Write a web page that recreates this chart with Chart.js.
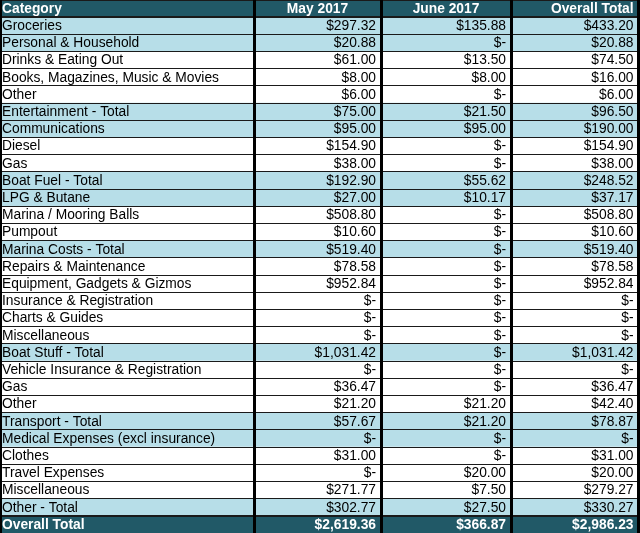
<!DOCTYPE html>
<html>
<head>
<meta charset="utf-8">
<script src="https://cdn.jsdelivr.net/npm/chart.js@4.4.0/dist/chart.umd.min.js"></script>
<style>
  html, body { margin: 0; padding: 0; background: #fff; }
  canvas { display: block; }
</style>
</head>
<body>
<canvas id="tableChart" width="640" height="533"></canvas>
<script>
// ====== Data ======
const headers = ["Category", "May 2017", "June 2017", "Overall Total"];

const categories = [
  "Groceries", "Personal & Household", "Drinks & Eating Out",
  "Books, Magazines, Music & Movies", "Other", "Entertainment - Total",
  "Communications", "Diesel", "Gas", "Boat Fuel - Total", "LPG & Butane",
  "Marina / Mooring Balls", "Pumpout", "Marina Costs - Total",
  "Repairs & Maintenance", "Equipment, Gadgets & Gizmos",
  "Insurance & Registration", "Charts & Guides", "Miscellaneous",
  "Boat Stuff - Total", "Vehicle Insurance & Registration", "Gas", "Other",
  "Transport - Total", "Medical Expenses (excl insurance)", "Clothes",
  "Travel Expenses", "Miscellaneous", "Other - Total", "Overall Total"
];

const may2017 = [
  297.32, 20.88, 61.00, 8.00, 6.00, 75.00, 95.00, 154.90, 38.00, 192.90,
  27.00, 508.80, 10.60, 519.40, 78.58, 952.84, 0, 0, 0, 1031.42,
  0, 36.47, 21.20, 57.67, 0, 31.00, 0, 271.77, 302.77, 2619.36
];

const june2017 = [
  135.88, 0, 13.50, 8.00, 0, 21.50, 95.00, 0, 0, 55.62,
  10.17, 0, 0, 0, 0, 0, 0, 0, 0, 0,
  0, 0, 21.20, 21.20, 0, 0, 20.00, 7.50, 27.50, 366.87
];

const overallTotal = [
  433.20, 20.88, 74.50, 16.00, 6.00, 96.50, 190.00, 154.90, 38.00, 248.52,
  37.17, 508.80, 10.60, 519.40, 78.58, 952.84, 0, 0, 0, 1031.42,
  0, 36.47, 42.40, 78.87, 0, 31.00, 20.00, 279.27, 330.27, 2986.23
];

// ====== Layout / style ======
const colEdges = [0, 254, 381, 511, 638.5];
const shadedRows = [0, 1, 5, 6, 9, 10, 13, 19, 23, 24, 28];
const DARK = "#215967";
const LIGHT = "#B7DEE8";
const FONT = "Liberation Sans, Arial, sans-serif";

const rowLabels = ["__header__"].concat(categories.map((c, i) => "r" + i));
const lastRow = categories.length; // index in rowLabels of "Overall Total"

function rowColor(r) {
  if (r === 0 || r === lastRow) return DARK;
  return shadedRows.includes(r - 1) ? LIGHT : "#FFFFFF";
}

function money(v) {
  if (!v) return "$-";
  return "$" + v.toLocaleString("en-US", { minimumFractionDigits: 2, maximumFractionDigits: 2 });
}

const columns = [categories, may2017, june2017, overallTotal];

// ====== Cell text plugin ======
const cellText = {
  id: "cellText",
  afterDraw(chart) {
    const { ctx, scales: { x, y } } = chart;
    ctx.save();
    ctx.textBaseline = "middle";
    rowLabels.forEach((lab, r) => {
      const cy = y.getPixelForValue(r) + 0.5;
      const dark = r === 0 || r === lastRow;
      ctx.fillStyle = dark ? "#FFFFFF" : "#000000";
      ctx.font = (dark ? "bold " : "") + "13.8px " + FONT;
      for (let c = 0; c < 4; c++) {
        const left = x.getPixelForValue(colEdges[c]);
        const right = x.getPixelForValue(colEdges[c + 1]);
        let txt;
        if (r === 0) txt = headers[c];
        else txt = c === 0 ? categories[r - 1] : money(columns[c][r - 1]);
        if (c === 0) {
          ctx.textAlign = "left";
          ctx.fillText(txt, left + 2, cy);
        } else if (r === 0 && c < 3) {
          ctx.textAlign = "center";
          ctx.fillText(txt, (left + right) / 2, cy);
        } else {
          ctx.textAlign = "right";
          ctx.fillText(txt, right - 5, cy);
        }
      }
    });
    ctx.restore();
  }
};

// ====== Table as floating bars ======
const datasets = headers.map((h, c) => ({
  label: h,
  data: rowLabels.map(() => [colEdges[c], colEdges[c + 1]]),
  backgroundColor: rowLabels.map((lab, r) => rowColor(r)),
  borderWidth: 0,
  borderSkipped: false,
  barPercentage: 1,
  categoryPercentage: 1,
  grouped: false
}));

new Chart(document.getElementById("tableChart").getContext("2d"), {
  type: "bar",
  data: { labels: rowLabels, datasets },
  options: {
    indexAxis: "y",
    responsive: false,
    animation: false,
    events: [],
    layout: { padding: 0 },
    plugins: { legend: { display: false }, tooltip: { enabled: false } },
    scales: {
      y: {
        type: "category",
        ticks: { display: false },
        border: { display: false },
        grid: {
          z: 1,
          offset: true,
          drawTicks: false,
          color: "#1a1a1a",
          lineWidth: (ctx) => (ctx.index === 0 || ctx.index === 1 || ctx.index === lastRow || ctx.index === lastRow + 1) ? 2 : 1
        }
      },
      x: {
        type: "linear",
        min: 0,
        max: 640,
        afterBuildTicks: (axis) => { axis.ticks = colEdges.map(v => ({ value: v })); },
        ticks: { display: false },
        border: { display: false },
        grid: { z: 2, color: "#000000", lineWidth: 3, drawTicks: false }
      }
    }
  },
  plugins: [cellText]
});
</script>
</body>
</html>
